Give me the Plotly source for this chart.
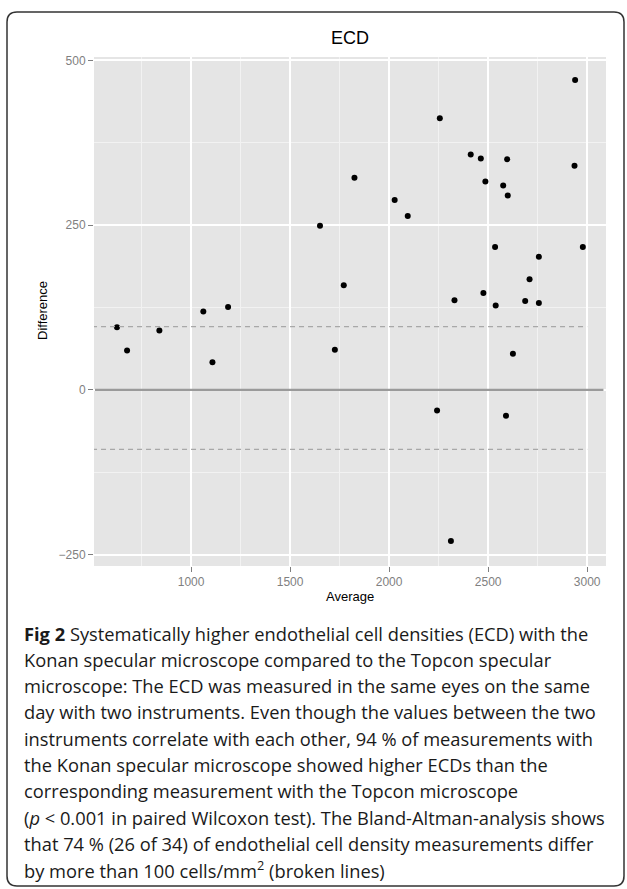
import plotly.graph_objects as go

# ---- data ----
average = [626, 677, 840, 1062, 1108, 1187, 1651, 1726, 1771, 1825, 2028, 2094,
           2242, 2256, 2312, 2330, 2412, 2463, 2476, 2486, 2535, 2538, 2576, 2590,
           2596, 2599, 2625, 2687, 2709, 2756, 2756, 2936, 2939, 2978]
difference = [95, 60, 90, 119, 42, 126, 249, 61, 159, 322, 288, 264,
              -31, 412, -229, 136, 357, 351, 147, 316, 217, 128, 310, -39,
              350, 295, 55, 135, 168, 202, 132, 340, 470, 217]
limit_upper = 96
limit_lower = -90
limit_x_end = 3000
x_ticks = [1000, 1500, 2000, 2500, 3000]
y_ticks = [-250, 0, 250, 500]

caption_lines = [
    "<b>Fig 2</b> Systematically higher endothelial cell densities (ECD) with the",
    "Konan specular microscope compared to the Topcon specular",
    "microscope: The ECD was measured in the same eyes on the same",
    "day with two instruments. Even though the values between the two",
    "instruments correlate with each other, 94 % of measurements with",
    "the Konan specular microscope showed higher ECDs than the",
    "corresponding measurement with the Topcon microscope",
    "(<i>p</i> &lt; 0.001 in paired Wilcoxon test). The Bland-Altman-analysis shows",
    "that 74 % (26 of 34) of endothelial cell density measurements differ",
    "by more than 100 cells/mm<sup>2</sup> (broken lines)",
]

# ---- layout geometry (pixels) ----
FW, FH = 627, 889
L, R, T, B = 94, 606, 57, 566
W, H = R - L, B - T


def pxx(x):
    return (x - L) / W


def pxy(y):
    return (B - y) / H


fig = go.Figure()
fig.add_trace(go.Scatter(
    x=average, y=difference, mode="markers",
    marker=dict(color="black", size=6, line=dict(width=0)),
    showlegend=False, hoverinfo="x+y",
))

shapes = []
# zero line
shapes.append(dict(type="line", xref="x", yref="y", x0=515, x1=3082, y0=0, y1=0,
                   line=dict(color="#9a9a9a", width=2.2), layer="above"))
# broken lines
for v in (limit_upper, limit_lower):
    shapes.append(dict(type="line", xref="x", yref="y", x0=500, x1=limit_x_end, y0=v, y1=v,
                       line=dict(color="#a8a8a8", width=1.2, dash="5px,4px"), layer="above"))

# rounded frame
bl, bt, br, bb, r = 7, 12, 624, 886, 10
rx, ry = r / W, r / H
x0, x1, y0, y1 = pxx(bl), pxx(br), pxy(bb), pxy(bt)
path = (f"M {x0+rx},{y1} L {x1-rx},{y1} Q {x1},{y1} {x1},{y1-ry} "
        f"L {x1},{y0+ry} Q {x1},{y0} {x1-rx},{y0} L {x0+rx},{y0} "
        f"Q {x0},{y0} {x0},{y0+ry} L {x0},{y1-ry} Q {x0},{y1} {x0+rx},{y1} Z")
shapes.append(dict(type="path", xref="paper", yref="paper", path=path,
                   line=dict(color="#333333", width=1.5), layer="above"))

annotations = []
annotations.append(dict(text="ECD", xref="paper", yref="paper", x=pxx(350), y=pxy(38),
                        xanchor="center", yanchor="middle", showarrow=False,
                        font=dict(family="Liberation Sans, Arial", size=18, color="black")))
annotations.append(dict(text="Average", xref="paper", yref="paper", x=pxx(350), y=pxy(596),
                        xanchor="center", yanchor="middle", showarrow=False,
                        font=dict(family="Liberation Sans, Arial", size=13, color="black")))
annotations.append(dict(text="Difference", xref="paper", yref="paper", x=pxx(42), y=pxy(311),
                        xanchor="center", yanchor="middle", showarrow=False, textangle=-90,
                        font=dict(family="Liberation Sans, Arial", size=13, color="black")))
for i, line in enumerate(caption_lines):
    annotations.append(dict(text=line, xref="paper", yref="paper", x=pxx(22),
                            y=pxy(633 + 26.3 * i), xanchor="left", yanchor="middle",
                            showarrow=False, align="left",
                            font=dict(family="Open Sans", size=18.3, color="#1a1a1a")))

axis_common = dict(
    showline=False, zeroline=False, ticks="outside", ticklen=5, tickwidth=1.3,
    tickcolor="#7f7f7f", gridcolor="white", gridwidth=1.6,
    tickfont=dict(family="Liberation Sans, Arial", size=12, color="#7f7f7f"),
)

fig.update_layout(
    width=FW, height=FH,
    margin=dict(l=L, r=FW - R, t=T, b=FH - B, pad=0),
    paper_bgcolor="white", plot_bgcolor="#e5e5e5",
    xaxis=dict(range=[510, 3095], tickvals=x_ticks,
               minor=dict(dtick=250, tick0=0, showgrid=True, gridcolor="#f2f2f2", gridwidth=1, ticks=""),
               **axis_common),
    yaxis=dict(range=[-267, 505], tickvals=y_ticks,
               minor=dict(dtick=125, tick0=0, showgrid=True, gridcolor="#f2f2f2", gridwidth=1, ticks=""),
               **axis_common),
    shapes=shapes, annotations=annotations,
)

fig.write_html("out.html")
